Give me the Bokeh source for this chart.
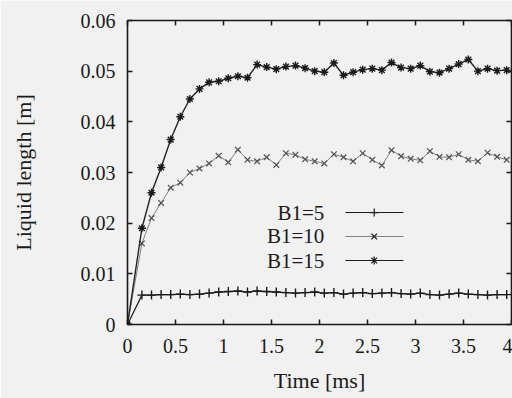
from bokeh.plotting import figure
from bokeh.models import LinearAxis, FixedTicker, Range1d, CustomJSTickFormatter
from bokeh.embed import file_html
from bokeh.resources import INLINE
from bokeh.core.properties import value

# ---- data ----
time_ms = [0, 0.15, 0.25, 0.35, 0.45, 0.55, 0.65, 0.75, 0.85, 0.95, 1.05, 1.15, 1.25,
           1.35, 1.45, 1.55, 1.65, 1.75, 1.85, 1.95, 2.05, 2.15, 2.25, 2.35, 2.45,
           2.55, 2.65, 2.75, 2.85, 2.95, 3.05, 3.15, 3.25, 3.35, 3.45, 3.55, 3.65,
           3.75, 3.85, 3.95]
b1_5 = [0, 0.0058, 0.0058, 0.0059, 0.0059, 0.0060, 0.0059, 0.0060, 0.0062, 0.0064,
        0.0065, 0.0066, 0.0064, 0.0066, 0.0065, 0.0064, 0.0063, 0.0062, 0.0063, 0.0064,
        0.0062, 0.0063, 0.0060, 0.0062, 0.0063, 0.0061, 0.0062, 0.0063, 0.0061, 0.0060,
        0.0062, 0.0059, 0.0058, 0.0060, 0.0062, 0.0060, 0.0059, 0.0058, 0.0059, 0.0059]
b1_10 = [0, 0.0160, 0.0210, 0.0240, 0.0270, 0.0280, 0.0300, 0.0308, 0.0318, 0.0333,
         0.0320, 0.0345, 0.0325, 0.0322, 0.0330, 0.0315, 0.0338, 0.0335, 0.0326, 0.0322,
         0.0318, 0.0336, 0.0330, 0.0322, 0.0338, 0.0325, 0.0314, 0.0344, 0.0332, 0.0327,
         0.0324, 0.0342, 0.0331, 0.0330, 0.0336, 0.0325, 0.0322, 0.0339, 0.0331, 0.0325]
b1_15 = [0, 0.0190, 0.0260, 0.0310, 0.0365, 0.0410, 0.0445, 0.0465, 0.0478, 0.0480,
         0.0486, 0.0490, 0.0487, 0.0513, 0.0508, 0.0504, 0.0509, 0.0511, 0.0506, 0.0500,
         0.0498, 0.0516, 0.0492, 0.0498, 0.0503, 0.0505, 0.0502, 0.0517, 0.0507, 0.0505,
         0.0511, 0.0499, 0.0497, 0.0505, 0.0514, 0.0523, 0.0500, 0.0505, 0.0501, 0.0502]
series_labels = ["B1=5", "B1=10", "B1=15"]
x_ticks = [0, 0.5, 1, 1.5, 2, 2.5, 3, 3.5, 4]
y_ticks = [0, 0.01, 0.02, 0.03, 0.04, 0.05, 0.06]

FONT = "Liberation Serif"
INK = "#1a1a1a"
BG = "#f1f1f1"

p = figure(width=512, height=398, output_backend="svg", toolbar_location=None,
           x_range=Range1d(0, 4), y_range=Range1d(0, 0.06),
           min_border_left=127, min_border_right=1, min_border_top=20,
           min_border_bottom=74, x_axis_label="Time [ms]",
           y_axis_label="Liquid length [m]")
p.background_fill_color = BG
p.border_fill_color = BG
p.outline_line_color = INK
p.outline_line_width = 1.6
p.grid.visible = False

def style_axis(ax, ticks, labels=True):
    ax.ticker = FixedTicker(ticks=ticks)
    ax.axis_line_color = None
    ax.major_tick_in = 5
    ax.major_tick_out = 0
    ax.major_tick_line_color = INK
    ax.major_tick_line_width = 1.5
    ax.minor_tick_line_color = None
    ax.major_label_text_font = FONT
    ax.major_label_text_font_size = "20px"
    ax.major_label_text_color = INK
    ax.axis_label_text_font = FONT
    ax.axis_label_text_font_size = "22px"
    ax.axis_label_text_font_style = "normal"
    ax.axis_label_text_color = INK
    if not labels:
        ax.formatter = CustomJSTickFormatter(code="return ''")

style_axis(p.xaxis[0], x_ticks)
style_axis(p.yaxis[0], y_ticks)
p.xaxis[0].major_label_standoff = 14
p.yaxis[0].major_label_standoff = 12
p.xaxis[0].axis_label_standoff = 12
p.yaxis[0].axis_label_standoff = 42

top = LinearAxis()
style_axis(top, x_ticks, labels=False)
p.add_layout(top, "above")
right = LinearAxis()
style_axis(right, y_ticks, labels=False)
p.add_layout(right, "right")

# series
p.line(time_ms, b1_5, line_color=INK, line_width=1.2)
p.scatter(time_ms, b1_5, marker="cross", size=9, line_color=INK, line_width=1.4)
p.line(time_ms, b1_10, line_color="#808080", line_width=1)
p.scatter(time_ms, b1_10, marker="x", size=8, line_color="#505050", line_width=1.2)
p.line(time_ms, b1_15, line_color="#222222", line_width=1.4)
p.scatter(time_ms, b1_15, marker="asterisk", size=8, line_color=INK, line_width=1.4)

# legend (label left of sample, gnuplot style)
leg_y = [0.0221, 0.01737, 0.01263]
leg_x0, leg_x1, leg_xm, leg_tx = 2.27, 2.875, 2.57, 2.05
markers = ["cross", "x", "asterisk"]
lcolors = [INK, "#808080", "#222222"]
for lab, yy, mk, lc in zip(series_labels, leg_y, markers, lcolors):
    p.line([leg_x0, leg_x1], [yy, yy], line_color=lc, line_width=1)
    p.scatter([leg_xm], [yy], marker=mk, size=8, line_color=INK, line_width=1.2)
    p.text([leg_tx], [yy], text=[lab], text_font=value(FONT), text_font_size="21px",
           text_align="right", text_baseline="middle", text_color=INK)

open("out.html", "w").write(file_html(p, INLINE))
